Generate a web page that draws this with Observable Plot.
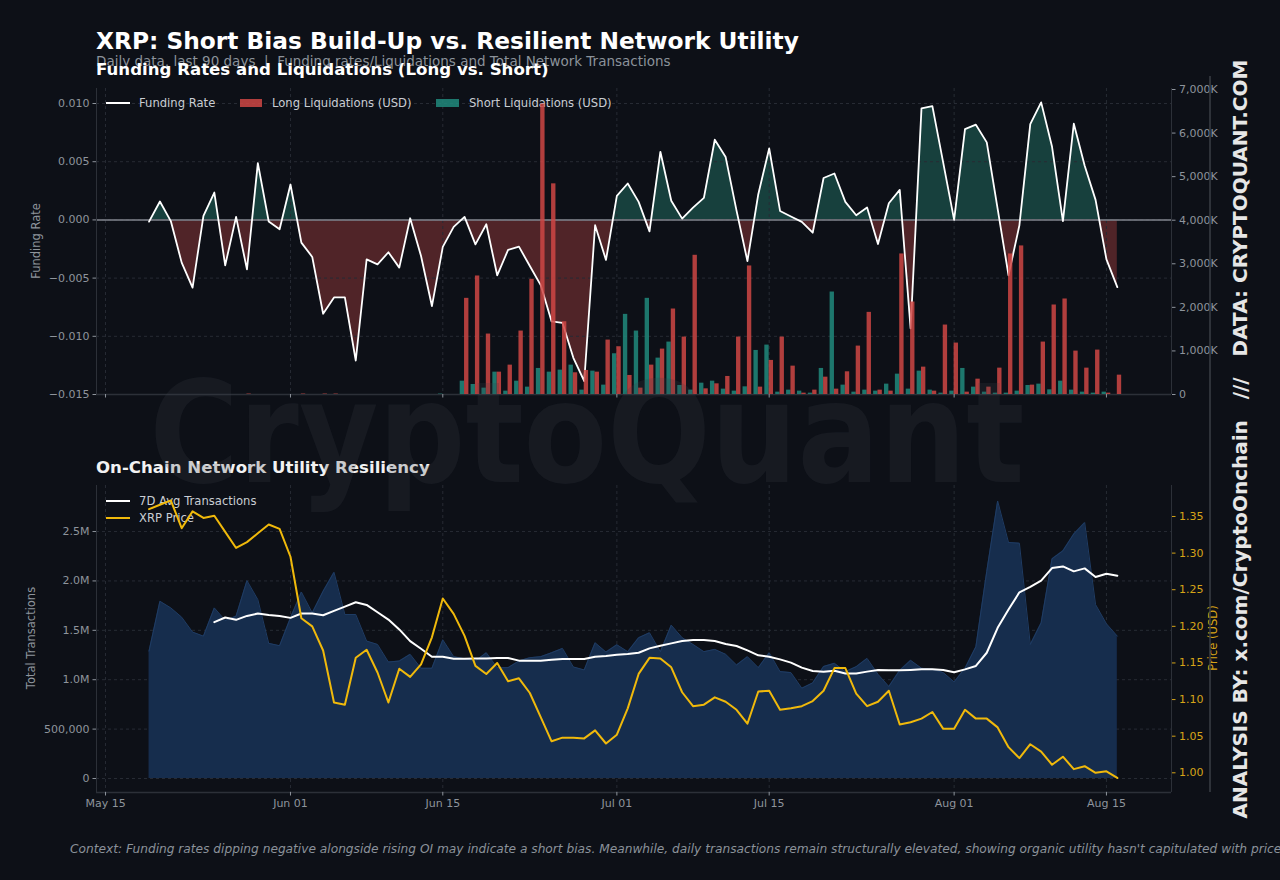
<!DOCTYPE html>
<html><head><meta charset="utf-8">
<script src="https://cdn.jsdelivr.net/npm/d3@7"></script>
<script src="https://cdn.jsdelivr.net/npm/@observablehq/plot@0.6"></script>
<style>
html,body{margin:0;padding:0;background:#0d1017;}
#page{position:relative;width:1280px;height:880px;background:#0d1017;overflow:hidden;font-family:"DejaVu Sans",sans-serif;}
#page > svg{position:absolute;left:0;}
</style></head><body><div id="page"></div>
<script>
// ---------------- DATA ----------------
const startDate = "2025-05-19"; // first daily observation (90 days)
const fundingRate = [
 -0.00015,0.00158,-0.0001,-0.00367,-0.00582,0.00034,0.00235,-0.0039,0.00026,-0.00425,
 0.00488,-0.00014,-0.0008,0.00304,-0.00195,-0.00318,-0.00806,-0.00666,-0.00666,-0.01208,
 -0.00339,-0.00382,-0.00278,-0.0041,0.00014,-0.0031,-0.0074,-0.00232,-0.0006,0.00026,
 -0.0021,-0.00037,-0.00476,-0.00258,-0.0023,-0.00396,-0.0056,-0.00872,-0.00884,-0.01185,
 -0.01386,-0.00046,-0.00344,0.00207,0.00313,0.00155,-0.00098,0.00585,0.00164,0.00011,
 0.00106,0.00189,0.00689,0.0054,0.0008,-0.00353,0.00221,0.00614,0.00077,0.00029,
 -0.00017,-0.0011,0.0036,0.00399,0.00155,0.0004,0.00106,-0.00207,0.00143,0.00258,
 -0.00932,0.00958,0.00978,0.0049,0.0,0.0078,0.00818,0.00666,0.00095,-0.00476,
 -0.00046,0.00823,0.0101,0.00628,-0.0001,0.00826,0.00465,0.00172,-0.00339,-0.00577
];
const longLiqK = [
 0,0,0,0,0,0,0,0,0,10,
 0,0,0,0,10,0,10,10,0,0,
 0,0,0,0,0,0,0,0,0,2207,
 2720,1387,513,674,1456,2644,6667,4835,1670,498,
 552,513,1249,1096,437,146,674,1042,1962,1318,
 3195,130,245,414,1318,2950,169,782,1318,651,
 31,100,398,123,521,1111,1885,100,77,3226,
 2123,628,77,1594,1180,54,352,169,605,3226,
 3410,215,1203,2054,2192,996,605,1019,31,444
];
const shortLiqK = [
 0,0,0,0,0,0,0,0,0,0,
 0,0,0,0,0,0,0,0,0,0,
 0,0,0,0,0,0,0,10,0,306,
 230,146,513,77,306,169,598,513,559,674,
 100,536,215,935,1839,1456,2207,835,1203,207,
 100,260,306,123,77,176,1011,1134,54,100,
 77,31,598,2352,215,54,100,77,238,467,
 123,536,100,31,77,598,169,54,31,31,
 77,207,238,107,306,100,54,31,54,0
];
const totalTxM = [
 1.29,1.794,1.727,1.633,1.482,1.441,1.727,1.60,1.643,2.003,
 1.811,1.368,1.344,1.626,1.888,1.677,1.895,2.087,1.66,1.66,
 1.391,1.357,1.179,1.189,1.257,1.116,1.116,1.404,1.233,1.213,
 1.19,1.273,1.122,1.122,1.19,1.223,1.233,1.273,1.317,1.129,
 1.099,1.374,1.28,1.354,1.284,1.425,1.475,1.284,1.552,1.425,
 1.357,1.284,1.307,1.257,1.149,1.233,1.122,1.273,1.082,1.072,
 0.914,0.968,1.134,1.166,1.082,1.132,1.216,1.055,0.931,1.095,
 1.196,1.116,1.105,1.072,0.978,1.116,1.334,2.097,2.809,2.389,
 2.382,1.357,1.576,2.224,2.305,2.476,2.591,1.761,1.566,1.441
];
// 7-day average, available from the 7th observation onward
const avg7dTxM = [
 1.583,1.630,1.606,1.646,1.670,1.656,1.646,1.626,1.670,1.670,
 1.653,1.697,1.740,1.784,1.757,1.683,1.609,1.509,1.391,1.314,
 1.233,1.233,1.213,1.213,1.216,1.216,1.220,1.220,1.193,1.193,
 1.193,1.203,1.210,1.210,1.210,1.233,1.240,1.253,1.260,1.273,
 1.317,1.344,1.368,1.391,1.401,1.401,1.391,1.361,1.341,1.297,
 1.247,1.233,1.206,1.173,1.122,1.089,1.080,1.090,1.062,1.062,
 1.082,1.099,1.095,1.095,1.099,1.105,1.105,1.099,1.075,1.105,
 1.139,1.273,1.525,1.710,1.885,1.939,2.003,2.130,2.147,2.097,
 2.127,2.040,2.073,2.053
];
const xrpPrice = [
 1.360,1.366,1.372,1.334,1.357,1.348,1.351,1.329,1.307,1.315,
 1.327,1.339,1.333,1.295,1.211,1.200,1.167,1.096,1.093,1.157,
 1.168,1.137,1.096,1.142,1.131,1.148,1.185,1.238,1.217,1.187,
 1.146,1.135,1.150,1.125,1.129,1.109,1.076,1.043,1.048,1.048,
 1.047,1.058,1.040,1.052,1.088,1.135,1.157,1.156,1.144,1.110,
 1.091,1.093,1.103,1.097,1.086,1.067,1.111,1.112,1.086,1.088,
 1.091,1.098,1.112,1.143,1.143,1.108,1.091,1.097,1.112,1.066,
 1.069,1.074,1.083,1.060,1.060,1.086,1.074,1.074,1.062,1.035,
 1.020,1.039,1.029,1.011,1.022,1.005,1.009,1.000,1.002,0.993
];
const xTickDates = ["2025-05-15","2025-06-01","2025-06-15","2025-07-01","2025-07-15","2025-08-01","2025-08-15"];
const frTicks = [-0.015,-0.010,-0.005,0,0.005,0.010];
const liqTicksK = [0,1000,2000,3000,4000,5000,6000,7000];
const txTicks = [0,500000,1000000,1500000,2000000,2500000];
const priceTicks = [1.00,1.05,1.10,1.15,1.20,1.25,1.30,1.35];

// ---------------- SETUP ----------------
const DAY = 864e5;
const t0 = new Date(startDate);
const dates = d3.utcDay.range(t0, d3.utcDay.offset(t0, fundingRate.length));
const base = +new Date("2025-05-15");
const xDomain = [new Date(base - 0.83 * DAY), new Date(base + 97.98 * DAY)];
const xTicks = xTickDates.map(s => new Date(s));

const frData = dates.map((d, i) => ({date: d, fr: fundingRate[i]}));
const longData = dates.map((d, i) => ({date: d, v: longLiqK[i]})).filter(o => o.v > 0);
const shortData = dates.map((d, i) => ({date: d, v: shortLiqK[i]})).filter(o => o.v > 0);
const txData = dates.map((d, i) => ({date: d, v: totalTxM[i] * 1e6}));
const avgData = avg7dTxM.map((v, i) => ({date: dates[i + 6], v: v * 1e6}));
const priceData = dates.map((d, i) => ({date: d, p: xrpPrice[i]}));

const C = {
  bg: "#0d1017", grid: "#272b34", spine: "#2c3038", tick: "#8e949c",
  pos: "#17403d", neg: "#502428", long: "#cf4744", short: "#218a7c",
  txFill: "#162d4d", txEdge: "#1f3c64", price: "#f0b90b", gold: "#d6a417", zero: "#80858e"
};
const W = 1280, ML = 96, MR = 109;
function frame(h, mt, mb, color) {
  return {width: W, height: h, marginLeft: ML, marginRight: MR, marginTop: mt, marginBottom: mb,
    style: {background: "transparent", color: color || C.tick, fontFamily: "DejaVu Sans", fontSize: "11px", overflow: "visible"}};
}
const gridOpts = {stroke: C.grid, strokeOpacity: 1, strokeDasharray: "3,3", strokeWidth: 1};
const page = document.getElementById("page");
const ns = "http://www.w3.org/2000/svg";
function place(svg, top) { svg.style.top = top + "px"; page.appendChild(svg); }

// ---------------- TOP PANEL ----------------
const TOP_Y = 80, TOP_H = 330, TOP_MT = 8, TOP_MB = 16;
const FR_DOMAIN = [-0.015, 0.01129];
// pixel row of the zero line inside the top panel (layout only)
const zeroRow = TOP_MT + (TOP_H - TOP_MT - TOP_MB) * (FR_DOMAIN[1] / (FR_DOMAIN[1] - FR_DOMAIN[0]));

// positive funding fill (clipped to the frame above zero)
place(Plot.plot({
  ...frame(TOP_H, TOP_MT, TOP_H - zeroRow),
  x: {type: "utc", domain: xDomain, axis: null},
  y: {domain: [0, FR_DOMAIN[1]], axis: null},
  marks: [Plot.area(frData, {x1: "date", y1: 0, y2: "fr", fill: C.pos, clip: true})]
}), TOP_Y);
// negative funding fill (clipped to the frame below zero)
place(Plot.plot({
  ...frame(TOP_H, zeroRow, TOP_MB),
  x: {type: "utc", domain: xDomain, axis: null},
  y: {domain: [FR_DOMAIN[0], 0], axis: null},
  marks: [Plot.area(frData, {x1: "date", y1: 0, y2: "fr", fill: C.neg, clip: true})]
}), TOP_Y);

place(Plot.plot({
  ...frame(TOP_H, TOP_MT, TOP_MB),
  x: {type: "utc", domain: xDomain, axis: null},
  y: {domain: FR_DOMAIN, axis: null},
  marks: [
    Plot.gridY(frTicks, gridOpts),
    Plot.gridX(xTicks, gridOpts),
    Plot.ruleY([0], {stroke: C.zero, strokeWidth: 1.5}),
    Plot.line(frData, {x: "date", y: "fr", stroke: "#ffffff", strokeWidth: 1.8}),
    Plot.ruleX([xDomain[0]], {stroke: C.spine}),
    Plot.ruleY([FR_DOMAIN[0]], {stroke: C.spine, strokeWidth: 1.5}),
    Plot.axisY({anchor: "left", ticks: frTicks, tickFormat: d3.format(".3f"), tickSize: 3.5, tickPadding: 3.5, label: null}),
    Plot.axisX({anchor: "bottom", ticks: xTicks, tickFormat: () => "", tickSize: 3.5, label: null})
  ]
}), TOP_Y);

// ---------------- BOTTOM PANEL (primary: transactions) ----------------
const BOT_Y = 475, BOT_H = 350;
const fmtTx = v => v >= 1e6 ? (v / 1e6).toFixed(1) + "M" : d3.format(",")(v);
place(Plot.plot({
  ...frame(BOT_H, 10, 33),
  x: {type: "utc", domain: xDomain, axis: null},
  y: {domain: [-0.1417e6, 2.966e6], axis: null},
  marks: [
    Plot.gridY(txTicks, gridOpts),
    Plot.gridX(xTicks, gridOpts),
    Plot.area(txData, {x1: "date", y1: 0, y2: "v", fill: C.txFill}),
    Plot.line(txData, {x: "date", y: "v", stroke: C.txEdge, strokeWidth: 1}),
    Plot.line(avgData, {x: "date", y: "v", stroke: "#ffffff", strokeWidth: 2}),
    Plot.ruleX([xDomain[0]], {stroke: C.spine}),
    Plot.ruleY([-0.1417e6], {stroke: C.spine, strokeWidth: 1.5}),
    Plot.axisY({anchor: "left", ticks: txTicks, tickFormat: fmtTx, tickSize: 3.5, tickPadding: 3.5, label: null}),
    Plot.axisX({anchor: "bottom", ticks: xTicks, tickFormat: d3.utcFormat("%b %d"), tickSize: 3.5, tickPadding: 3, label: null})
  ]
}), BOT_Y);

// ---------------- LEGENDS (between primary and secondary layers) ----------------
const leg = document.createElementNS(ns, "svg");
leg.setAttribute("width", W); leg.setAttribute("height", 880);
leg.innerHTML = `
<g font-family="DejaVu Sans" font-size="11.6" fill="#c9cdd3" dominant-baseline="central">
  <line x1="106" x2="130" y1="103" y2="103" stroke="#ffffff" stroke-width="2"/>
  <text x="139" y="103">Funding Rate</text>
  <rect x="240" y="99" width="22" height="8" fill="${C.long}" fill-opacity="0.85"/>
  <text x="272" y="103">Long Liquidations (USD)</text>
  <rect x="436" y="99" width="23" height="8" fill="${C.short}" fill-opacity="0.85"/>
  <text x="469" y="103">Short Liquidations (USD)</text>
  <line x1="106" x2="130" y1="501" y2="501" stroke="#ffffff" stroke-width="2"/>
  <text x="139" y="501">7D Avg Transactions</text>
  <line x1="106" x2="130" y1="518" y2="518" stroke="${C.price}" stroke-width="2"/>
  <text x="139" y="518">XRP Price</text>
</g>`;
place(leg, 0);

// ---------------- TOP PANEL (secondary: liquidations) ----------------
place(Plot.plot({
  ...frame(TOP_H, TOP_MT, TOP_MB),
  x: {type: "utc", domain: xDomain, axis: null},
  y: {domain: [0, 7023], axis: null},
  marks: [
    Plot.rect(shortData, {x1: o => new Date(+o.date - 0.4 * DAY), x2: "date", y1: 0, y2: "v", fill: C.short, fillOpacity: 0.85}),
    Plot.rect(longData, {x1: "date", x2: o => new Date(+o.date + 0.4 * DAY), y1: 0, y2: "v", fill: C.long, fillOpacity: 0.85}),
    Plot.ruleX([xDomain[1]], {stroke: C.spine}),
    Plot.axisY({anchor: "right", ticks: liqTicksK, tickFormat: v => v === 0 ? "0" : d3.format(",")(v) + "K", tickSize: 3.5, tickPadding: 4, label: null})
  ]
}), TOP_Y);

// ---------------- BOTTOM PANEL (secondary: price) ----------------
place(Plot.plot({
  ...frame(BOT_H, 10, 33, C.gold),
  x: {type: "utc", domain: xDomain, axis: null},
  y: {domain: [0.9731, 1.3923], axis: null},
  marks: [
    Plot.line(priceData, {x: "date", y: "p", stroke: C.price, strokeWidth: 2}),
    Plot.ruleX([xDomain[1]], {stroke: C.spine}),
    Plot.axisY({anchor: "right", ticks: priceTicks, tickFormat: d3.format(".2f"), tickSize: 3.5, tickPadding: 4, label: null})
  ]
}), BOT_Y);

// ---------------- TEXT OVERLAY ----------------
const ov = document.createElementNS(ns, "svg");
ov.setAttribute("width", W); ov.setAttribute("height", 880);
ov.innerHTML = `
<g font-family="DejaVu Sans">
  <text x="96" y="49" font-size="23.3" font-weight="bold" fill="#ffffff">XRP: Short Bias Build-Up vs. Resilient Network Utility</text>
  <text x="96" y="66" font-size="13.5" fill="#8b929a" xml:space="preserve" style="white-space:pre">Daily data, last 90 days  |  Funding rates/Liquidations and Total Network Transactions</text>
  <text x="96" y="75" font-size="16.6" font-weight="bold" fill="#ffffff">Funding Rates and Liquidations (Long vs. Short)</text>
  <text x="96" y="473" font-size="16.6" font-weight="bold" fill="#f2f2f2">On-Chain Network Utility Resiliency</text>
  <text transform="translate(40,241) rotate(-90)" text-anchor="middle" font-size="11.5" fill="#8e949c">Funding Rate</text>
  <text transform="translate(35,638) rotate(-90)" text-anchor="middle" font-size="11.5" fill="#8e949c">Total Transactions</text>
  <text transform="translate(1217,638) rotate(-90)" text-anchor="middle" font-size="11.5" fill="${C.gold}">Price (USD)</text>
  <line x1="1210" x2="1210" y1="76" y2="792" stroke="#3a3e46" stroke-width="1.5"/>
  <text transform="translate(1247,439) rotate(-90)" text-anchor="middle" font-size="20" font-weight="bold" fill="#e6e6e6" xml:space="preserve" style="white-space:pre">ANALYSIS BY: x.com/CryptoOnchain   ///   DATA: CRYPTOQUANT.COM</text>
  <text x="70" y="853" font-size="12.2" font-style="italic" fill="#8b929a">Context: Funding rates dipping negative alongside rising OI may indicate a short bias. Meanwhile, daily transactions remain structurally elevated, showing organic utility hasn't capitulated with price.</text>
  <text x="587" y="482" text-anchor="middle" font-size="140" font-weight="bold" fill="#3c414b" fill-opacity="0.22" textLength="875" lengthAdjust="spacingAndGlyphs">CryptoQuant</text>
</g>`;
place(ov, 0);
</script>
</body></html>
